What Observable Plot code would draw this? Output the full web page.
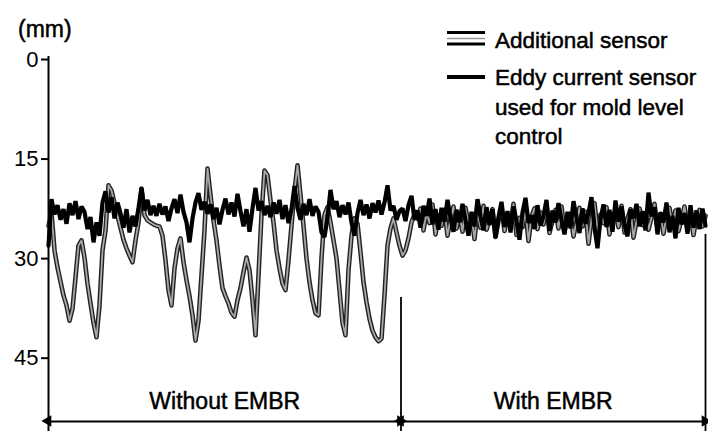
<!DOCTYPE html>
<html>
<head>
<meta charset="utf-8">
<script src="https://cdn.jsdelivr.net/npm/d3@7"></script>
<script src="https://cdn.jsdelivr.net/npm/@observablehq/plot@0.6"></script>
<style>
  html, body { margin: 0; padding: 0; background: #fff; }
  #chart { width: 708px; height: 431px; }
</style>
</head>
<body>
<div id="chart"></div>
<script>
// Mold level (mm below the reference level), one sample per time step
const eddyCurrent = [
  28.5, 21.5, 23.8, 22.4, 24.6, 23.0, 25.2, 22.1, 23.9, 21.8,
  24.5, 22.6, 23.4, 26.0, 24.2, 28.0, 25.0, 27.0, 22.0, 20.3,
  23.5, 21.2, 24.4, 22.0, 23.6, 25.8, 23.0, 26.5, 24.0, 25.6,
  22.8, 19.8, 23.2, 21.6, 23.9, 22.5, 24.0, 22.2, 23.8, 22.6,
  24.8, 22.9, 21.5, 23.6, 20.8, 23.4, 25.0, 28.0, 24.4, 22.0,
  20.6, 23.1, 21.9, 23.7, 22.3, 24.5, 22.8, 25.3, 23.1, 21.4,
  23.8, 22.0, 24.1, 20.7, 23.3, 25.6, 23.0, 26.4, 22.9, 19.8,
  23.2, 21.8, 23.9, 22.5, 24.2, 22.0, 23.7, 21.6, 24.5, 22.4,
  25.1, 23.0, 19.5, 22.8, 24.6, 22.2, 23.9, 21.5, 24.0, 22.6,
  23.4, 26.5, 27.2, 24.3, 20.1, 23.0, 21.8, 24.2, 22.4, 23.8,
  22.0, 25.0, 27.0, 23.6, 21.6, 23.9, 22.3, 24.4, 22.1, 23.5,
  21.7, 23.8, 22.0, 19.4, 23.2, 22.5, 24.6, 23.3, 22.9, 24.8,
  22.4, 21.0, 24.6, 23.2, 25.8, 22.5, 24.0, 21.4, 25.3, 23.0,
  26.1, 22.8, 24.9, 21.6, 24.3, 26.4, 23.1, 25.0, 22.2, 24.7,
  27.0, 23.4, 25.6, 21.5, 24.1, 26.2, 22.7, 25.4, 23.0, 27.3,
  24.2, 21.9, 25.7, 23.3, 26.5, 22.6, 24.8, 27.6, 23.5, 21.3,
  25.1, 23.9, 26.0, 22.4, 25.5, 24.0, 21.6, 26.3, 23.2, 25.0,
  22.1, 24.6, 26.8, 23.4, 25.9, 21.8, 24.3, 26.6, 22.9, 25.2,
  23.6, 21.2, 25.8, 28.9, 24.5, 22.3, 25.7, 23.1, 26.4, 21.7,
  24.9, 22.6, 25.3, 27.1, 23.0, 24.4, 22.2, 25.6, 23.3, 26.2,
  20.5, 24.1, 22.7, 26.8, 23.5, 25.0, 22.0, 26.5, 24.0, 27.4,
  22.8, 25.3, 23.6, 26.7, 22.4, 25.8, 23.2, 26.0, 22.9, 25.5
];

const additionalSensor = [
  25.5, 23.6, 29.2, 31.8, 33.9, 36.0, 37.5, 39.8, 38.0, 33.3,
  28.5, 27.7, 30.3, 34.2, 37.2, 40.1, 42.3, 37.5, 29.2, 26.2,
  19.4, 20.2, 22.1, 24.0, 25.8, 27.6, 28.9, 30.0, 31.0, 27.7,
  25.0, 19.9, 23.9, 24.7, 25.0, 25.3, 25.5, 25.6, 27.0, 30.7,
  35.2, 37.5, 31.9, 28.9, 27.4, 31.0, 33.7, 36.1, 39.0, 42.8,
  39.8, 33.0, 26.2, 16.9, 20.9, 24.7, 27.7, 31.5, 34.9, 36.1,
  37.2, 38.6, 39.2, 36.7, 34.9, 32.5, 30.3, 32.2, 36.7, 42.0,
  33.0, 23.9, 17.2, 17.9, 21.7, 25.0, 29.2, 31.9, 34.2, 35.2,
  30.7, 25.5, 20.2, 16.4, 20.9, 25.5, 30.4, 34.0, 36.7, 38.7,
  39.0, 30.4, 23.9, 22.7, 25.0, 27.7, 30.4, 35.2, 40.1, 42.0,
  32.2, 27.0, 24.4, 25.2, 29.5, 34.0, 37.0, 39.5, 41.3, 42.3,
  42.9, 42.5, 36.0, 28.5, 25.9, 24.4, 26.5, 28.5, 30.0, 29.2,
  27.4, 25.0, 23.8,
  24.4, 22.9, 26.2, 23.6, 25.1, 22.3, 26.8, 24.0, 25.5, 23.1,
  27.0, 24.5, 22.6, 25.9, 23.8, 26.4, 22.8, 25.2, 24.1, 27.5,
  23.4, 25.8, 22.5, 26.1, 24.6, 23.0, 27.2, 24.8, 22.7, 26.3,
  23.9, 25.4, 22.2, 26.9, 24.3, 25.7, 23.2, 27.8, 24.1, 22.9,
  26.0, 23.5, 25.3, 22.4, 26.6, 24.7, 23.1, 25.9, 22.6, 26.4,
  24.2, 23.7, 27.1, 24.9, 22.8, 25.6, 23.4, 28.2, 24.5, 22.1,
  26.2, 23.8, 25.1, 22.7, 26.8, 24.0, 23.3, 25.7, 22.5, 26.5,
  24.4, 23.0, 27.3, 24.8, 22.9, 25.4, 23.6, 26.1, 24.3, 22.2,
  25.9, 23.7, 26.7, 24.1, 22.8, 25.5, 23.2, 26.3, 24.6, 22.6,
  25.8, 23.9, 26.9, 24.2, 23.1, 25.6, 24.0
];

const yTicks = [0, 15, 30, 45];

// Operating periods along the time axis
const regionLabels = ["Without EMBR", "With EMBR"];
const regionStart = [0, 117.5];
const regionEnd = [117.5, 219];

const legendLabels = [
  ["Additional sensor"],
  ["Eddy current sensor", "used for mold level", "control"]
];

const font = "'Liberation Sans', Arial, Helvetica, sans-serif";
const yMax = 56.5;

const samples = eddyCurrent.map((v, i) => ({t: i, eddy: v, extra: additionalSensor[i]}));
const regions = regionLabels.map((label, i) => ({
  label, start: regionStart[i], end: regionEnd[i], mid: (regionStart[i] + regionEnd[i]) / 2
}));
const heads = regions.flatMap(r => [
  {x: r.start, dir: -90, dx: 6},
  {x: r.end, dir: 90, dx: -6}
]);
const tEnd = samples.length - 1;

const chart = Plot.plot({
  width: 708,
  height: 431,
  marginLeft: 48,
  marginRight: 3,
  marginTop: 56,
  marginBottom: 0,
  style: {fontFamily: font, background: "#fff", color: "#000"},
  x: {domain: [0, tEnd], axis: null},
  y: {domain: [0, yMax], reverse: true, axis: null},
  marks: [
    Plot.axisY(yTicks, {
      anchor: "left", tickSize: 7, tickPadding: 3, fontSize: 22,
      strokeWidth: 2, dy: 3, label: null, tickFormat: d => String(d)
    }),
    Plot.ruleX([0], {stroke: "#000", strokeWidth: 2}),
    // period boundary and end of record
    Plot.ruleX([regionEnd[0]], {y1: 36.3, y2: yMax, stroke: "#000", strokeWidth: 1.8}),
    Plot.ruleX([tEnd], {y1: 26.8, y2: yMax, stroke: "#000", strokeWidth: 1.8}),
    // additional sensor: grey trace with dark edges
    Plot.line(samples, {x: "t", y: "extra", stroke: "#222", strokeWidth: 4.6, strokeLinejoin: "round"}),
    Plot.line(samples, {x: "t", y: "extra", stroke: "#a8a8a8", strokeWidth: 1.8, strokeLinejoin: "round"}),
    // eddy current sensor
    Plot.line(samples, {x: "t", y: "eddy", stroke: "#000", strokeWidth: 4.2, strokeLinejoin: "miter"}),
    // period annotations
    Plot.link(regions, {x1: "start", x2: "end", y1: 55, y2: 55, stroke: "#000", strokeWidth: 2}),
    Plot.dot(heads, {x: "x", y: 55, dx: "dx", symbol: "triangle2", rotate: "dir", r: 5.5, fill: "#000", stroke: "none"}),
    Plot.text(regions, {
      x: "mid", y: 52, text: "label", fontSize: 23, fill: "#000",
      stroke: "#000", strokeWidth: 0.5, lineAnchor: "middle"
    })
  ]
});

// Legend in the upper right
const svg = d3.select(chart);
const lg = svg.append("g").attr("font-family", font).attr("font-size", 22.5)
  .attr("fill", "#000").attr("text-anchor", "start");
lg.append("line").attr("x1", 447).attr("x2", 485).attr("y1", 32.5).attr("y2", 32.5)
  .attr("stroke", "#000").attr("stroke-width", 3);
lg.append("line").attr("x1", 447).attr("x2", 485).attr("y1", 38.5).attr("y2", 38.5)
  .attr("stroke", "#9a9a9a").attr("stroke-width", 1.5);
lg.append("line").attr("x1", 447).attr("x2", 485).attr("y1", 44).attr("y2", 44)
  .attr("stroke", "#000").attr("stroke-width", 3);
lg.append("line").attr("x1", 447).attr("x2", 485).attr("y1", 77).attr("y2", 77)
  .attr("stroke", "#000").attr("stroke-width", 4);
const baselines = [[48], [85, 115, 144]];
legendLabels.forEach((lines, i) => {
  lines.forEach((s, j) => {
    lg.append("text").attr("x", 495).attr("y", baselines[i][j])
      .attr("stroke", "#000").attr("stroke-width", 0.5).text(s);
  });
});
// unit label
svg.append("text").attr("x", 18).attr("y", 37).attr("font-family", font)
  .attr("text-anchor", "start")
  .attr("font-size", 23).attr("fill", "#000").attr("stroke", "#000").attr("stroke-width", 0.5)
  .text("(mm)");

document.getElementById("chart").appendChild(chart);
</script>
</body>
</html>
